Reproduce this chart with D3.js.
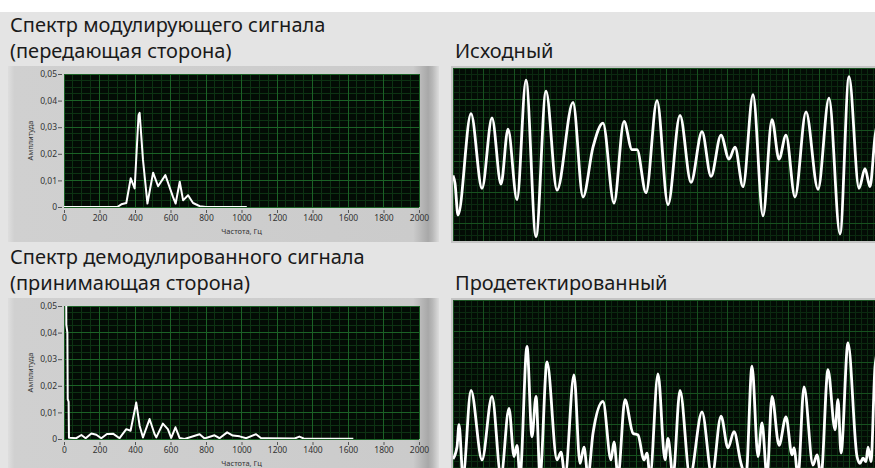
<!DOCTYPE html>
<html><head><meta charset="utf-8">
<script src="https://cdn.jsdelivr.net/npm/d3@7"></script>
<style>
html,body{margin:0;padding:0;background:#fff;}
svg{display:block;}
text{font-family:"Noto Sans","Open Sans",sans-serif;}
</style></head><body>
<svg id="c" width="875" height="468"></svg>
<script>
// ---- Spectrum of the modulating signal (transmit side) ----
const txFreq = [0, 160, 300, 323, 351, 376, 398, 420, 426, 445, 470, 502, 530, 571, 614, 629, 652, 671, 699, 727, 765, 800, 1030];
const txAmp  = [0, 0, 0, 0.001, 0.0015, 0.0108, 0.007, 0.0345, 0.0354, 0.0177, 0.0013, 0.0129, 0.0078, 0.012, 0.0038, 0.0013, 0.0095, 0.0025, 0.0044, 0.0015, 0.0003, 0, 0];

// ---- Spectrum of the demodulated signal (receive side) ----
const rxFreq = [0, 13, 19, 21, 26, 28, 69, 98, 122, 154, 182, 210, 242, 276, 313, 351, 375, 407, 426, 445, 482, 510, 520, 557, 585, 604, 628, 651, 679, 764, 792, 848, 876, 919, 951, 989, 1026, 1082, 1111, 1139, 1300, 1326, 1350, 1630];
const rxAmp  = [0.3, 0.043, 0.040, 0.015, 0.014, 0.0005, 0.0003, 0.0015, 0.0003, 0.0021, 0.0016, 0.0003, 0.0019, 0.002, 0.0003, 0.0037, 0.0031, 0.0137, 0.005, 0.0006, 0.0075, 0.0019, 0.0006, 0.0058, 0.0037, 0.0004, 0.0044, 0.0004, 0, 0.0018, 0.0002, 0.0014, 0.0003, 0.0025, 0.0013, 0.001, 0.0003, 0.0018, 0.0003, 0.0003, 0.0002, 0.0009, 0.0002, 0.0001];

// ---- Source waveform (samples, amplitude) ----
const srcT = [0, 2, 5, 18, 29, 39, 48, 55, 64, 73, 83, 93, 104, 120, 130, 140, 150, 161, 171, 179, 184, 193, 204, 215, 227, 238, 249, 258, 268, 276, 282, 290, 300, 310, 319, 326, 333, 342, 353, 365, 376, 387, 396, 406, 412, 417, 422, 427];
const srcV = [-0.25, -0.34, -0.71, 0.47, -0.40, 0.42, -0.35, 0.29, -0.53, 0.86, -0.96, 0.73, -0.42, 0.60, -0.50, 0.08, 0.36, -0.57, 0.38, 0.05, 0.05, -0.45, 0.62, -0.59, 0.45, -0.33, 0.26, -0.26, 0.22, -0.06, 0.08, -0.38, 0.69, -0.72, 0.40, -0.06, 0.22, -0.50, 0.49, -0.41, 0.65, -0.93, 0.90, -0.40, -0.17, -0.38, 0.20, 0.51];

// ---- Detected waveform (samples, amplitude) ----
const detT = [0, 4, 6, 10, 18, 29, 39, 48, 56, 61, 64, 67, 74, 79, 83, 87, 94, 104, 108, 112, 121, 127, 131, 135, 140, 150, 158, 161, 165, 172, 180, 185, 191, 194, 197, 205, 212, 215, 220, 227, 237, 249, 259, 268, 275, 281, 288, 293, 299, 305, 309, 314, 319, 326, 333, 339, 341, 345, 351, 360, 364, 368, 375, 382, 385, 388, 395, 404, 407, 410, 413, 415, 418, 422, 427];
const detV = [-0.85, -0.71, -0.45, -1.05, -0.05, -0.86, -0.12, -1.05, -0.26, -0.82, -0.69, -1.05, 0.46, -0.59, -0.12, -1.05, 0.28, -0.86, -0.77, -1.05, 0.13, -0.90, -0.71, -1.05, -0.55, -0.18, -0.86, -0.65, -1.05, -0.16, -0.55, -0.57, -0.86, -0.78, -1.05, 0.14, -0.86, -0.61, -1.05, -0.05, -1.05, -0.30, -1.05, -0.35, -0.72, -0.53, -0.90, -1.05, 0.23, -0.82, -0.43, -1.05, -0.12, -0.69, -0.36, -0.80, -0.72, -1.05, -0.01, -0.92, -0.80, -1.05, 0.19, -0.51, -0.16, -0.78, 0.50, -0.82, -0.90, -0.84, -0.88, -0.71, -0.88, 0.22, 0.53];

// ---- Axis ticks ----
const freqTicks = [0, 200, 400, 600, 800, 1000, 1200, 1400, 1600, 1800, 2000];
const ampTicks = [0, 0.01, 0.02, 0.03, 0.04, 0.05];
const ampTickLabels = ["0", "0,01", "0,02", "0,03", "0,04", "0,05"];

const W = 875, H = 468;
const svg = d3.select("#c");
svg.append("rect").attr("width", W).attr("height", H).attr("fill", "#ffffff");
svg.append("rect").attr("y", 12).attr("width", W).attr("height", H - 12).attr("fill", "#e4e4e4");

const defs = svg.append("defs");
const pg = defs.append("linearGradient").attr("id", "panelGrad")
  .attr("x1", 0).attr("x2", 1).attr("y1", 0).attr("y2", 0);
[["0%", "#dedede"], ["1.5%", "#d0d0d0"], ["94%", "#cbcbcb"], ["97.5%", "#a8a8a8"], ["98.5%", "#b8b8b8"], ["100%", "#dcdcdc"]]
  .forEach(([o, c]) => pg.append("stop").attr("offset", o).attr("stop-color", c));

const PLOT_BG = "#030c05";

function title(x, y, txt) {
  svg.append("text").attr("x", x).attr("y", y).attr("font-size", 20)
    .attr("fill", "#1a1a1a").text(txt);
}

function gridLines(g, xs, ys, x0, x1, y0, y1, color) {
  g.append("g").selectAll("line").data(xs).join("line")
    .attr("x1", d => d).attr("x2", d => d).attr("y1", y0).attr("y2", y1)
    .attr("stroke", color).attr("stroke-width", 1).attr("shape-rendering", "crispEdges");
  g.append("g").selectAll("line").data(ys).join("line")
    .attr("x1", x0).attr("x2", x1).attr("y1", d => d).attr("y2", d => d)
    .attr("stroke", color).attr("stroke-width", 1).attr("shape-rendering", "crispEdges");
}

function spectrum(panelTop, freq, amp, id) {
  const g = svg.append("g");
  const plotTop = panelTop + 8, plotBottom = panelTop + 141;
  const x = d3.scaleLinear().domain([0, 2000]).range([64, 419]);
  const y = d3.scaleLinear().domain([0, 0.05]).range([plotBottom, plotTop]);

  g.append("rect").attr("x", 8).attr("y", panelTop).attr("width", 431).attr("height", 176)
    .attr("fill", "url(#panelGrad)");
  g.append("rect").attr("x", x(0)).attr("y", plotTop).attr("width", x(2000) - x(0))
    .attr("height", plotBottom - plotTop).attr("fill", PLOT_BG);

  const fMinor = d3.range(0, 2001, 50).filter(v => v % 200 !== 0);
  const aMinor = d3.range(0, 21).map(i => i * 0.0025).filter((v, i) => i % 4 !== 0);
  gridLines(g, fMinor.map(x), aMinor.map(y), x(0), x(2000), plotTop, plotBottom, "#0d3313");
  gridLines(g, freqTicks.map(x), ampTicks.map(y), x(0), x(2000), plotTop, plotBottom, "#1b6226");

  defs.append("clipPath").attr("id", id).append("rect")
    .attr("x", x(0)).attr("y", plotTop).attr("width", x(2000) - x(0)).attr("height", plotBottom - plotTop);
  const pts = freq.map((f, i) => [f, amp[i]]);
  g.append("path").datum(pts).attr("clip-path", `url(#${id})`)
    .attr("d", d3.line().x(d => x(d[0])).y(d => y(d[1])))
    .attr("fill", "none").attr("stroke", "#ffffff").attr("stroke-width", 2)
    .attr("stroke-linejoin", "round");

  const ya = g.append("g").attr("transform", `translate(${x(0) - 2},0)`)
    .call(d3.axisLeft(y).tickValues(ampTicks).tickFormat((d, i) => ampTickLabels[i]).tickSize(4).tickPadding(1));
  const xa = g.append("g").attr("transform", `translate(0,${plotBottom + 3})`)
    .call(d3.axisBottom(x).tickValues(freqTicks).tickFormat(d => String(d)).tickSize(3).tickPadding(2));
  [ya, xa].forEach(a => {
    a.select(".domain").remove();
    a.selectAll("line").attr("stroke", "#555");
    a.selectAll("text").attr("font-size", 8.5).attr("fill", "#333")
      .attr("font-family", "'Noto Sans', sans-serif");
  });

  g.append("text").attr("transform", `translate(33,${(plotTop + plotBottom) / 2}) rotate(-90)`)
    .attr("text-anchor", "middle").attr("font-size", 7.5).attr("fill", "#333").text("Амплитуда");
  g.append("text").attr("x", (x(0) + x(2000)) / 2).attr("y", plotBottom + 27)
    .attr("text-anchor", "middle").attr("font-size", 7.5).attr("fill", "#333").text("Частота, Гц");
}

function waveform(plotTop, plotBottom, vTop, vBottom, t, v, id) {
  const g = svg.append("g");
  const x0 = 453, x1 = 880;
  const x = d3.scaleLinear().domain([0, 427]).range([x0, x1]);
  const y = d3.scaleLinear().domain([-1, 1]).range([vBottom, vTop]);

  g.append("rect").attr("x", x0 - 2).attr("y", plotTop - 2).attr("width", x1 - x0 + 4)
    .attr("height", plotBottom - plotTop + 4).attr("fill", "#c4c4c4");
  g.append("rect").attr("x", x0).attr("y", plotTop).attr("width", x1 - x0)
    .attr("height", plotBottom - plotTop).attr("fill", PLOT_BG);

  const tMinor = d3.range(0, 428, 6.1), tMajor = d3.range(0, 428, 30.5);
  const vMinor = d3.range(plotTop, plotBottom, 6.2), vMajor = d3.range(plotTop, plotBottom, 31);
  gridLines(g, tMinor.map(x), vMinor, x0, x1, plotTop, plotBottom, "#0b2a10");
  gridLines(g, tMajor.map(x), vMajor, x0, x1, plotTop, plotBottom, "#17511f");

  defs.append("clipPath").attr("id", id).append("rect")
    .attr("x", x0).attr("y", plotTop).attr("width", x1 - x0).attr("height", plotBottom - plotTop);
  const pts = t.map((d, i) => [d, v[i]]);
  g.append("path").datum(pts).attr("clip-path", `url(#${id})`)
    .attr("d", d3.line().x(d => x(d[0])).y(d => y(d[1])).curve(d3.curveMonotoneX))
    .attr("fill", "none").attr("stroke", "#ffffff").attr("stroke-width", 2.8)
    .attr("stroke-linejoin", "round");
}

title(10, 32, "Спектр модулирующего сигнала");
title(10, 58, "(передающая сторона)");
title(10, 264, "Спектр демодулированного сигнала");
title(10, 290, "(принимающая сторона)");
title(455, 58, "Исходный");
title(455, 290, "Продетектированный");

spectrum(66, txFreq, txAmp, "clipTx");
spectrum(298, rxFreq, rxAmp, "clipRx");
waveform(68, 241, 68, 240, srcT, srcV, "clipSrc");
waveform(300, 482, 300, 472, detT, detV, "clipDet");
</script>
</body></html>
